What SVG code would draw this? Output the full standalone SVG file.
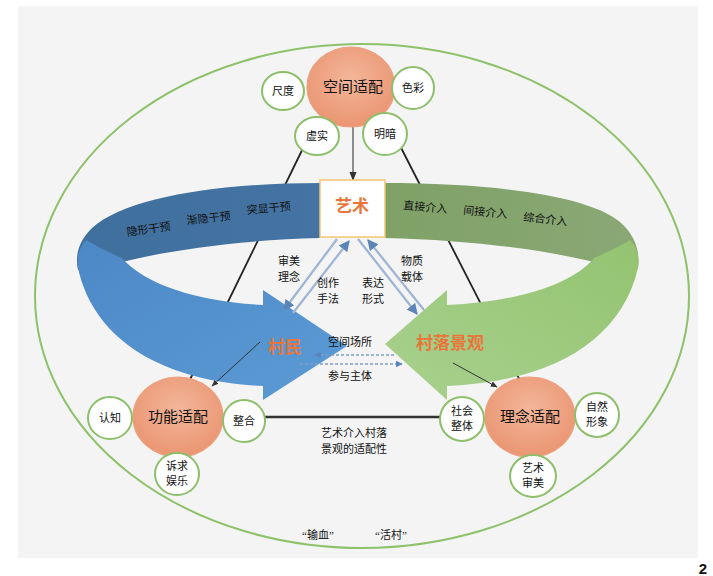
<svg xmlns="http://www.w3.org/2000/svg" width="713" height="576" viewBox="0 0 713 576">
<defs>
<style>
.t{font-family:"Liberation Serif","Noto Sans CJK SC",serif;fill:#111;text-anchor:middle}
.s{font-size:11px}
.m{font-size:15px}
.big{font-family:"Liberation Sans","Noto Sans CJK SC",sans-serif;font-weight:bold;fill:#e8763a;text-anchor:middle;font-size:17px}
.sat{fill:#ffffff;stroke:#8dbf6a;stroke-width:2}
.main{fill:url(#og);stroke:#eba07c;stroke-width:1.2}
.tri{stroke:#222;stroke-width:1.8;fill:none}
.ba{stroke:#9db4d4;stroke-width:2.2;fill:none}
.da{stroke:#7f9dc8;stroke-width:1.4;stroke-dasharray:3 2;fill:none}
</style>
<radialGradient id="og" cx="50%" cy="40%" r="60%"><stop offset="0" stop-color="#f3b69a"/><stop offset="1" stop-color="#ea9572"/></radialGradient>
<linearGradient id="bb" x1="0" y1="0" x2="1" y2="0"><stop offset="0" stop-color="#3f6f9c"/><stop offset="1" stop-color="#4574a4"/></linearGradient>
<linearGradient id="bf" x1="0" y1="0" x2="1" y2="1"><stop offset="0" stop-color="#4c88c6"/><stop offset="1" stop-color="#5b9bd5"/></linearGradient>
<linearGradient id="gb" x1="0" y1="0" x2="1" y2="0"><stop offset="0" stop-color="#7fa166"/><stop offset="1" stop-color="#8aa876"/></linearGradient>
<linearGradient id="gf" x1="1" y1="0" x2="0" y2="1"><stop offset="0" stop-color="#93c370"/><stop offset="1" stop-color="#a9d18e"/></linearGradient>
<marker id="ah" viewBox="0 0 10 10" refX="9" refY="5" markerWidth="7" markerHeight="7" orient="auto"><path d="M0,1 L10,5 L0,9 Z" fill="#333"/></marker>
<marker id="bh" viewBox="0 0 10 10" refX="9" refY="5" markerWidth="5" markerHeight="5" orient="auto"><path d="M0,0 L10,5 L0,10 Z" fill="#5b84b8"/></marker>
</defs>
<rect x="0" y="0" width="713" height="576" fill="#ffffff"/>
<rect x="18" y="6" width="680" height="552" fill="#f4f4f4"/>
<ellipse cx="362" cy="296" rx="327" ry="252" fill="none" stroke="#8dc16a" stroke-width="2"/>

<g id="connectors">
<line class="tri" x1="308" y1="138" x2="180" y2="400"/>
<line class="tri" x1="394" y1="134" x2="530" y2="400"/>
<line x1="244" y1="417" x2="462" y2="417" stroke="#333" stroke-width="2.6"/>
<line x1="353" y1="112" x2="353" y2="180" stroke="#555" stroke-width="1.3" marker-end="url(#ah)"/>
</g>

<g id="blue-arrow">
<path d="M320,183 C215,183 125,198 92,228 C78,242 75,256 78,270 L122,262 C170,250 240,240 320,238 Z" fill="url(#bb)"/>
<path d="M122,258 C145,285 200,302 263,305 L263,290 L347,346 L263,400 L263,386 C170,382 95,345 78,268 C76,256 80,246 86,240 C96,246 108,252 122,258 Z" fill="url(#bf)"/>
<text class="t s" transform="translate(149,233) rotate(-8)">隐形干预</text>
<text class="t s" transform="translate(209,222) rotate(-6)">渐隐干预</text>
<text class="t s" transform="translate(269,212) rotate(-5)">突显干预</text>
<text class="big" x="285" y="353">村民</text>
</g>

<g id="green-arrow">
<path d="M385,183 C495,183 590,196 620,222 C636,236 640,252 638,268 L594,262 C545,250 470,240 385,238 Z" fill="url(#gb)"/>
<path d="M594,258 C572,285 515,302 447,305 L447,290 L385,344 L447,400 L447,386 C545,382 620,345 638,268 C640,256 636,246 630,240 C620,246 608,252 594,258 Z" fill="url(#gf)"/>
<text class="t s" transform="translate(425,211) rotate(5)">直接介入</text>
<text class="t s" transform="translate(485,216) rotate(5)">间接介入</text>
<text class="t s" transform="translate(545,223) rotate(6)">综合介入</text>
<text class="big" x="450" y="349">村落景观</text>
</g>

<g id="art-box">
<rect x="320" y="180" width="65" height="57" fill="#ffffff" stroke="#f2c56e" stroke-width="1.5"/>
<text class="big" x="352" y="212">艺术</text>
</g>

<g id="links">
<line class="ba" x1="337" y1="239" x2="284" y2="310" marker-end="url(#bh)"/>
<line class="ba" x1="293" y1="313" x2="349" y2="241" marker-end="url(#bh)"/>
<line class="ba" x1="358" y1="239" x2="417" y2="314" marker-end="url(#bh)"/>
<line class="ba" x1="424" y1="310" x2="368" y2="240" marker-end="url(#bh)"/>
<line class="da" x1="394" y1="355" x2="315" y2="355" marker-end="url(#bh)"/>
<line class="da" x1="300" y1="364" x2="402" y2="364" marker-end="url(#bh)"/>
<line x1="260" y1="342" x2="212" y2="386" stroke="#333" stroke-width="1" marker-end="url(#ah)"/>
<line x1="453" y1="363" x2="497" y2="387" stroke="#333" stroke-width="1" marker-end="url(#ah)"/>
<text class="t s" x="289" y="265">审美</text>
<text class="t s" x="289" y="281">理念</text>
<text class="t s" x="328" y="287">创作</text>
<text class="t s" x="328" y="303">手法</text>
<text class="t s" x="373" y="287">表达</text>
<text class="t s" x="373" y="303">形式</text>
<text class="t s" x="412" y="265">物质</text>
<text class="t s" x="412" y="281">载体</text>
<text class="t s" x="350" y="346">空间场所</text>
<text class="t s" x="350" y="380">参与主体</text>
</g>

<g id="space-node">
<ellipse class="main" cx="351" cy="87" rx="44" ry="40"/>
<text class="t m" x="353" y="92">空间适配</text>
</g>
<g id="n-chidu"><ellipse class="sat" cx="283" cy="91" rx="21" ry="19"/><text class="t s" x="283" y="95">尺度</text></g>
<g id="n-secai"><ellipse class="sat" cx="413" cy="88" rx="21" ry="21"/><text class="t s" x="413" y="92">色彩</text></g>
<g id="n-xushi"><ellipse class="sat" cx="317" cy="136" rx="22" ry="19"/><text class="t s" x="317" y="140">虚实</text></g>
<g id="n-mingan"><ellipse class="sat" cx="385" cy="134" rx="22" ry="21"/><text class="t s" x="385" y="138">明暗</text></g>

<g id="function-node">
<ellipse class="main" cx="178" cy="417" rx="45" ry="40"/>
<text class="t m" x="178" y="422">功能适配</text>
</g>
<g id="n-renzhi"><ellipse class="sat" cx="110" cy="418" rx="22" ry="21"/><text class="t s" x="110" y="422">认知</text></g>
<g id="n-zhenghe"><ellipse class="sat" cx="244" cy="421" rx="21" ry="21"/><text class="t s" x="244" y="425">整合</text></g>
<g id="n-suqiu"><ellipse class="sat" cx="177" cy="474" rx="22" ry="21"/><text class="t s" x="177" y="470">诉求</text><text class="t s" x="177" y="485">娱乐</text></g>

<g id="concept-node">
<ellipse class="main" cx="530" cy="417" rx="45" ry="40"/>
<text class="t m" x="530" y="422">理念适配</text>
</g>
<g id="n-shehui"><ellipse class="sat" cx="462" cy="419" rx="22" ry="22"/><text class="t s" x="462" y="415">社会</text><text class="t s" x="462" y="430">整体</text></g>
<g id="n-ziran"><ellipse class="sat" cx="597" cy="415" rx="22" ry="22"/><text class="t s" x="597" y="411">自然</text><text class="t s" x="597" y="426">形象</text></g>
<g id="n-yishu"><ellipse class="sat" cx="533" cy="476" rx="23" ry="21"/><text class="t s" x="533" y="472">艺术</text><text class="t s" x="533" y="487">审美</text></g>

<g id="labels">
<text class="t s" x="354" y="437">艺术介入村落</text>
<text class="t s" x="354" y="453">景观的适配性</text>
<text class="t s" x="318" y="539">“输血”</text>
<text class="t s" x="391" y="539">“活村”</text>
</g>
<text x="703" y="574" font-family="Liberation Sans,Arial,sans-serif" font-weight="bold" font-size="15" text-anchor="middle" fill="#111">2</text>
</svg>
